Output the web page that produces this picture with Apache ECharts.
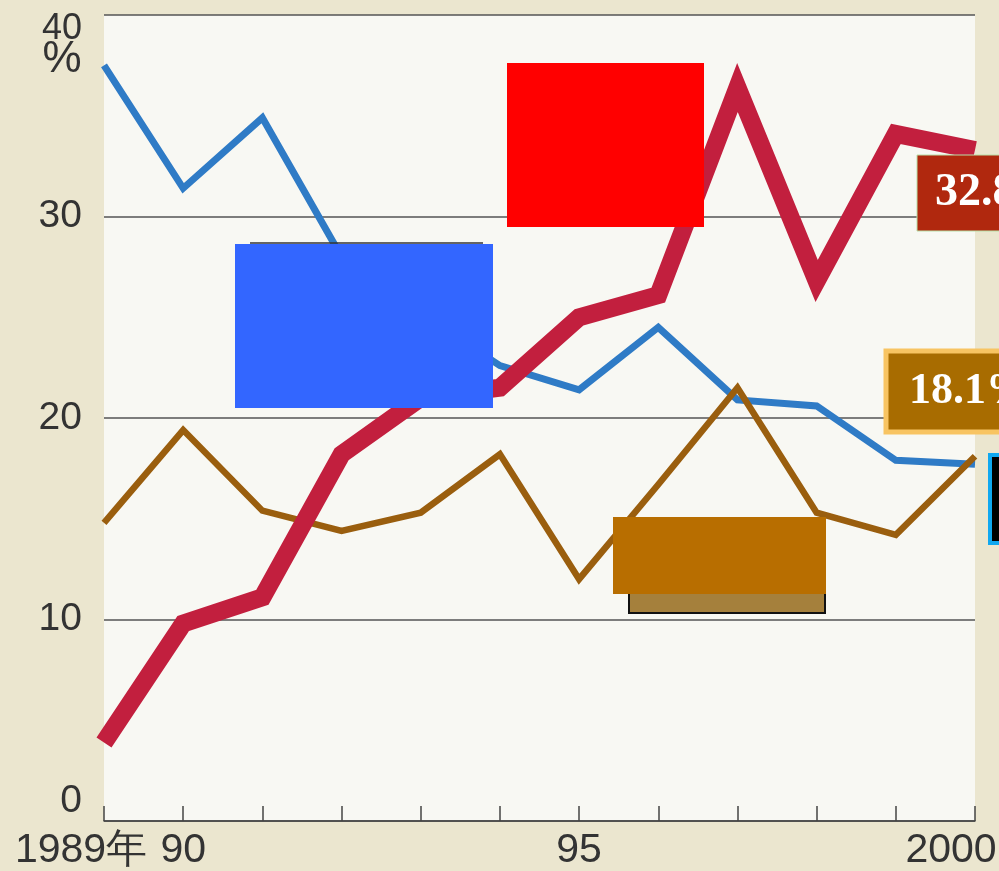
<!DOCTYPE html>
<html><head><meta charset="utf-8">
<script src="https://cdn.jsdelivr.net/npm/echarts@6/dist/echarts.min.js"></script>
<style>html,body{margin:0;padding:0;background:#ebe6cf;}#c{width:999px;height:871px;}</style>
</head><body><div id="c"></div>
<script>
const years = ['1989','1990','1991','1992','1993','1994','1995','1996','1997','1998','1999','2000'];
const redSeries = [3.9, 9.8, 11.1, 18.2, 21.0, 21.5, 25.0, 26.1, 36.4, 26.8, 34.1, 33.3];
const blueSeries = [37.5, 31.4, 34.9, 28.0, 25.2, 22.6, 21.4, 24.5, 20.9, 20.6, 17.9, 17.7];
const brownSeries = [14.8, 19.4, 15.4, 14.4, 15.3, 18.2, 12.0, 16.7, 21.5, 15.3, 14.2, 18.1];
const xTickLabels = {'1989':'1989年','1990':'90','1995':'95','2000':'2000'};
const unitLabel = '%';

const chart = echarts.init(document.getElementById('c'));
const lbl = {fontFamily:'Liberation Sans, Arial, sans-serif', fontSize:39, color:'#333'};
const xl = {fontFamily:'Liberation Sans, Arial, sans-serif', fontSize:41, color:'#333'};
chart.setOption({
  backgroundColor:'#ebe6cf',
  animation:false,
  grid:{left:104,right:24,top:15,bottom:50,containLabel:false,outerBoundsMode:'none',show:true,backgroundColor:'#f8f8f3',borderWidth:0},
  xAxis:{type:'category',data:years,boundaryGap:false,
    axisLine:{show:true,lineStyle:{color:'#444',width:1.5}},
    axisTick:{show:true,inside:true,length:15,alignWithLabel:true,lineStyle:{color:'#444',width:1.5}},
    splitLine:{show:false},
    axisLabel:{...xl,margin:9,interval:0,
      formatter:function(v){
        if(v==='1989') return '{a|1989年}';
        if(v==='2000') return '{z|2000}';
        return xTickLabels[v]||'';
      },
      rich:{a:{...xl,padding:[0,46,0,0]},z:{...xl,padding:[0,48,0,0]}}
    }
  },
  yAxis:{type:'value',min:0,max:40,interval:10,
    axisLine:{show:false},axisTick:{show:false},
    splitLine:{show:true,lineStyle:{color:'#555',width:1.5}},
    axisLabel:{...lbl,margin:22,verticalAlignMaxLabel:'top',verticalAlignMinLabel:'bottom',
      formatter:function(v){ return v===40 ? '{n|40}\n{p|' + unitLabel + '}' : String(v); },
      rich:{n:{...lbl,fontSize:36,lineHeight:28,align:'center'},p:{...lbl,fontSize:44,lineHeight:34,align:'center'}}
    }
  },
  series:[
    {type:'line',data:blueSeries,symbol:'none',z:3,lineStyle:{color:'#2f7bc6',width:7,join:'miter'}},
    {type:'line',data:brownSeries,symbol:'none',z:3,lineStyle:{color:'#9a5e0e',width:6.5,join:'miter'}},
    {type:'line',data:redSeries,symbol:'none',z:4,lineStyle:{color:'#c21f3e',width:18,join:'miter'}}
  ],
  graphic:[
    {type:'rect',shape:{x:507,y:63,width:197,height:164},style:{fill:'#ff0000'},z:100},
    {type:'line',shape:{x1:250,y1:243,x2:483,y2:243},style:{stroke:'#333',lineWidth:1.5},z:99},
    {type:'rect',shape:{x:235,y:244,width:258,height:164},style:{fill:'#3366ff'},z:100},
    {type:'rect',shape:{x:629,y:518,width:196,height:95},style:{fill:'#a5803c',stroke:'#111',lineWidth:2},z:100},
    {type:'rect',shape:{x:613,y:517,width:213,height:77},style:{fill:'#b86e00'},z:101},
    {type:'rect',shape:{x:917,y:155,width:100,height:76},style:{fill:'#b0280e',stroke:'#b8e0a8',lineWidth:1},z:100},
    {type:'text',x:935,y:193,style:{text:'32.8%',fill:'#fff',font:'bold 46px "Liberation Serif", "Times New Roman", serif',textVerticalAlign:'middle'},z:101},
    {type:'rect',shape:{x:886,y:351,width:130,height:81},style:{fill:'#a86c00',stroke:'#f8c462',lineWidth:5},z:100},
    {type:'text',x:909,y:392,style:{text:'18.1%',fill:'#fff',font:'bold 44px "Liberation Serif", "Times New Roman", serif',textVerticalAlign:'middle'},z:101},
    {type:'rect',shape:{x:990,y:455,width:30,height:88},style:{fill:'#000',stroke:'#10a8f0',lineWidth:4},z:100}
  ]
});
</script></body></html>
